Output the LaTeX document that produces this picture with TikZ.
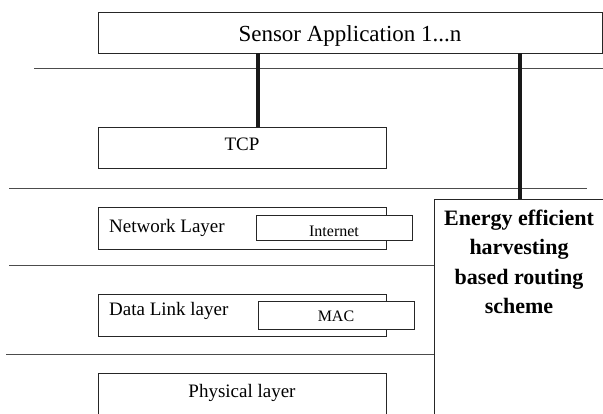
\documentclass[tikz,border=0pt]{standalone}
\usepackage{fontspec}
\setmainfont{Liberation Serif}
\begin{document}
\begin{tikzpicture}[x=1pt,y=-1pt,
  box/.style={draw=black!85, line width=0.9pt, fill=white, inner sep=0pt},
  sepline/.style={draw=black!70, line width=0.9pt},
  link/.style={draw=black!90, line width=4pt},
  txt/.style={inner sep=0pt, anchor=base, font=\fontsize{19}{22}\selectfont},
  small/.style={inner sep=0pt, anchor=base, font=\fontsize{16}{19}\selectfont}]
\useasboundingbox (0,0) rectangle (603,413);
\clip (0,0) rectangle (603,413);
% separator lines
\draw[sepline] (34,68) -- (603,68);
\draw[sepline] (9,188) -- (587,188);
% boxes
\node[box, minimum width=504pt, minimum height=41pt] (app) at (350,32.5) {};
\node[box, minimum width=288pt, minimum height=41pt] (tcp) at (242,147.5) {};
\node[box, minimum width=176pt, minimum height=221pt] (energy) at (522,309.5) {};
\draw[sepline] (9,265) -- (9,265 -| energy.west);
\draw[sepline] (6,354) -- (6,354 -| energy.west);
\node[box, minimum width=288pt, minimum height=42pt] (net) at (242,228) {};
\node[box, minimum width=156pt, minimum height=25pt] (inet) at (334,227.5) {};
\node[box, minimum width=288pt, minimum height=42pt] (dll) at (242,315) {};
\node[box, minimum width=156pt, minimum height=28pt] (mac) at (336,315) {};
\node[box, minimum width=288pt, minimum height=47pt] (phy) at (242,396.5) {};
% texts
\node[inner sep=0pt, anchor=base, font=\fontsize{23}{26}\selectfont] (appt) at (350,41) {Sensor Application 1...n};
\node[txt] (tcpt) at (242,150) {TCP};
\node[txt, anchor=base west] (nett) at (109,232) {Network Layer};
\node[small] (inett) at (334,236) {Internet};
\node[txt, anchor=base west] (dllt) at (109,315.5) {Data Link layer};
\node[small] (mact) at (336,321) {MAC};
\node[txt] (phyt) at (242,397) {Physical layer};
\node[inner sep=0pt, anchor=north, align=center, font=\bfseries\fontsize{22}{29.5}\selectfont] (energyt) at (519,209.5) {Energy efficient\\harvesting\\based routing\\scheme};
% thick links
\coordinate (l1) at (258,0);
\coordinate (l2) at (520,0);
\draw[link] (app.south -| l1) -- (tcp.north -| l1);
\draw[link] (app.south -| l2) -- (energy.north -| l2);
\end{tikzpicture}
\end{document}
